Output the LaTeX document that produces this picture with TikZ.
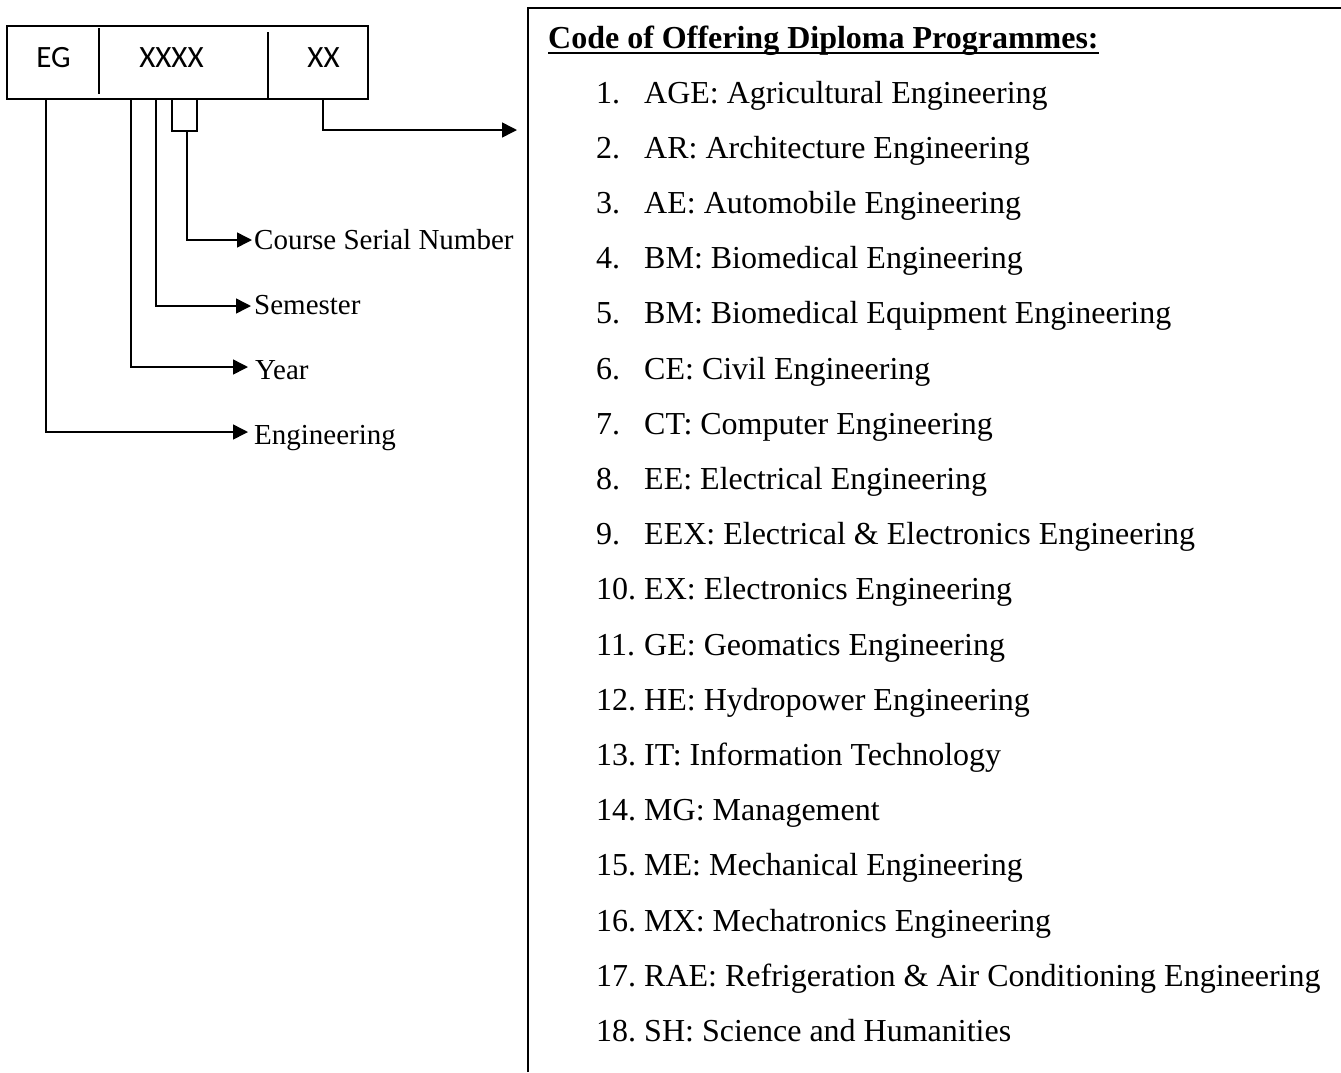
\documentclass[tikz,border=0pt]{standalone}
\usepackage{fontspec}
\setmainfont{Liberation Serif}
\newfontfamily\carlito{Carlito}
\usetikzlibrary{arrows.meta,calc}
\begin{document}
\begin{tikzpicture}[x=1pt,y=-1pt,
  conn/.style={line width=1.5pt,-{Triangle[length=15pt,width=15pt]}},
  plainline/.style={line width=1.5pt},
  frame/.style={line width=2pt},
  lbl/.style={anchor=base west,inner sep=0pt,font=\fontsize{29}{34}\selectfont},
  boxtxt/.style={anchor=base,inner sep=0pt,font=\carlito\fontsize{31}{34}\selectfont},
  item/.style={anchor=base west,inner sep=0pt,font=\fontsize{32}{38}\selectfont}]
\useasboundingbox (0,0) rectangle (1341,1072);

% code box
\draw[frame] (7,26) rectangle (368,99);
\draw[plainline] (99,28) -- (99,94);
\draw[plainline] (268,32) -- (268,99);
\node[boxtxt] (eg) at (53.5,67) {EG};
\node[boxtxt] (xxxx) at (171.5,67) {XXXX};
\node[boxtxt] (xx) at (323.5,67) {XX};

% bracket under XXXX
\draw[plainline] (172,99) -- (172,131) -- (197,131) -- (197,99);

% coordinates on the box bottom
\coordinate (pEng) at (46,99);
\coordinate (pYear) at (131,99);
\coordinate (pSem) at (156,99);
\coordinate (pCsn) at (187,131);
\coordinate (pXX) at (323,99);

% labels
\node[lbl] (csn) at (254,249) {Course Serial Number};
\node[lbl] (sem) at (254,314) {Semester};
\node[lbl] (year) at (255,379) {Year};
\node[lbl] (eng) at (254,444) {Engineering};

\draw[conn] (pCsn) |- ($(csn.base west)+(-2pt,9pt)$);
\draw[conn] (pSem) |- ($(sem.base west)+(-3pt,8pt)$);
\draw[conn] (pYear) |- ($(year.base west)+(-7pt,12pt)$);
\draw[conn] (pEng) |- ($(eng.base west)+(-6pt,12pt)$);

% list frame
\draw[frame] (528,1072) -- (528,8) -- (1341,8);
\coordinate (listL) at (517,130);
\draw[conn] (pXX) |- (listL);

% header
\node[anchor=base west,inner sep=0pt,font=\bfseries\fontsize{32}{38}\selectfont] (hdr) at (548,48) {Code of Offering Diploma Programmes:};
\draw[line width=2.5pt] ($(hdr.base west)+(0,-5pt)$) -- ($(hdr.base east)+(0,-5pt)$);

% items
\foreach \n/\t [count=\i from 0] in {
  1./AGE: Agricultural Engineering,
  2./AR: Architecture Engineering,
  3./AE: Automobile Engineering,
  4./BM: Biomedical Engineering,
  5./BM: Biomedical Equipment Engineering,
  6./CE: Civil Engineering,
  7./CT: Computer Engineering,
  8./EE: Electrical Engineering,
  9./EEX: Electrical \& Electronics Engineering,
  10./EX: Electronics Engineering,
  11./GE: Geomatics Engineering,
  12./HE: Hydropower Engineering,
  13./IT: Information Technology,
  14./MG: Management,
  15./ME: Mechanical Engineering,
  16./MX: Mechatronics Engineering,
  17./RAE: Refrigeration \& Air Conditioning Engineering,
  18./SH: Science and Humanities} {
  \node[item] (num\i) at (596,{103+\i*55.2}) {\n};
  \node[item] (txt\i) at (644,{103+\i*55.2}) {\t};
}
\end{tikzpicture}
\end{document}
